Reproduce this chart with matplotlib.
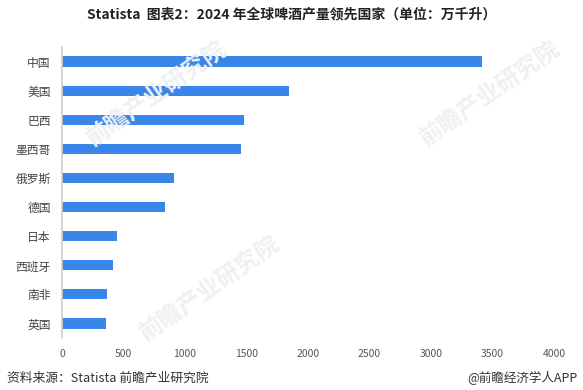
import matplotlib.pyplot as plt

plt.rcParams['font.family'] = ['Noto Sans CJK SC', 'DejaVu Sans']

# Data
countries = ["中国", "美国", "巴西", "墨西哥", "俄罗斯", "德国", "日本", "西班牙", "南非", "英国"]
values = [3415, 1845, 1480, 1453, 911, 837, 447, 415, 366, 358]
xticks = [0, 500, 1000, 1500, 2000, 2500, 3000, 3500, 4000]

fig = plt.figure(figsize=(5.83, 3.90), dpi=100)

# faint watermarks
for wx, wy in [(0.27, 0.76), (0.36, 0.26), (0.84, 0.76)]:
    fig.text(wx, wy, '前瞻产业研究院', ha='center', va='center', rotation=35,
             fontsize=17, fontweight='bold', color='#eef0f3', zorder=0)

ax = fig.add_axes([0.1063, 0.1333, 0.8440, 0.7462])
ax.patch.set_alpha(0)

ax.barh(countries, values, height=0.35, color='#3A86E8')
ax.invert_yaxis()
ax.set_ylim(9.5, -0.5)
ax.set_xlim(0, 4000)
ax.set_xticks(xticks)

for side in ['top', 'right', 'bottom']:
    ax.spines[side].set_visible(False)
ax.spines['left'].set_color('#d0d0d0')
ax.spines['left'].set_linewidth(1.2)
ax.tick_params(axis='both', length=0, colors='#555555', labelsize=7.5)
ax.tick_params(axis='y', pad=8, labelcolor='#444444', labelsize=8.5)
ax.tick_params(axis='x', pad=8)

fig.text(0.5, 0.962, 'Statista  图表2：2024 年全球啤酒产量领先国家（单位：万千升）',
         ha='center', va='center', fontsize=10, fontweight='bold', color='#222222')
fig.text(0.012, 0.03, '资料来源：Statista 前瞻产业研究院',
         ha='left', va='center', fontsize=9.2, color='#333333')
fig.text(0.99, 0.03, '@前瞻经济学人APP',
         ha='right', va='center', fontsize=9, color='#333333')

fig.savefig('out.png', dpi=100)
